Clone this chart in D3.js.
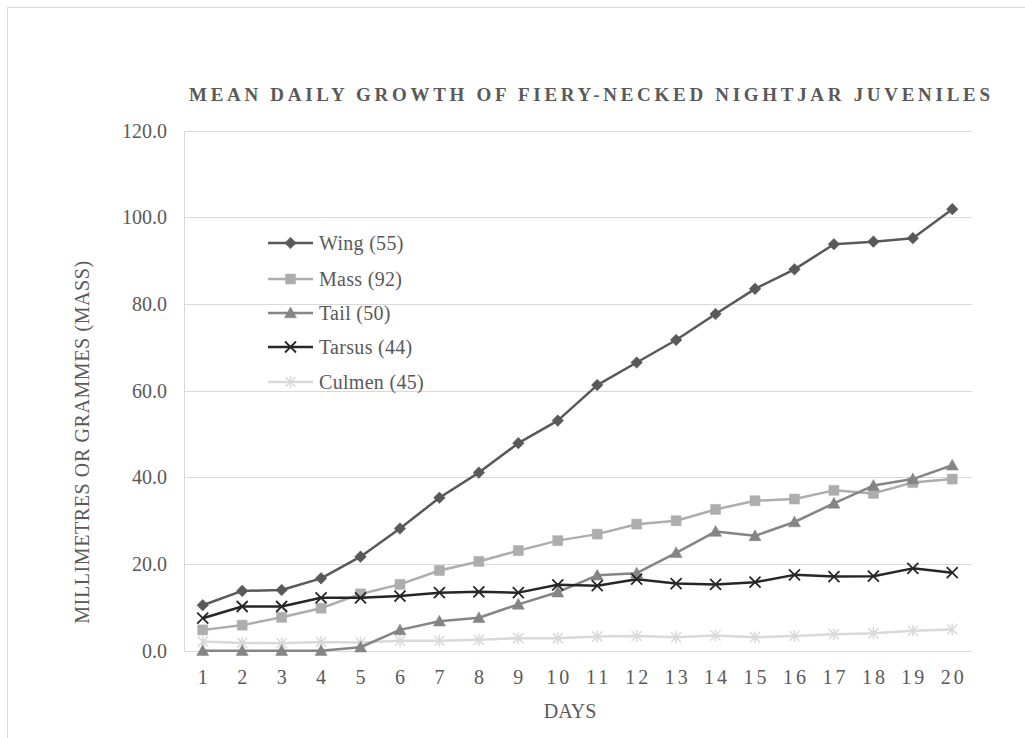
<!DOCTYPE html>
<html><head><meta charset="utf-8">
<script src="https://cdn.jsdelivr.net/npm/d3@7"></script>
<style>
html,body{margin:0;padding:0;background:#fff;}
svg text{font-family:"Liberation Serif","DejaVu Serif",serif;}
</style></head>
<body><svg id="c" width="1025" height="738"></svg>
<script>
const days = [1,2,3,4,5,6,7,8,9,10,11,12,13,14,15,16,17,18,19,20];
const yTicks = [0,20,40,60,80,100,120];
const seriesNames = ["Wing (55)","Mass (92)","Tail (50)","Tarsus (44)","Culmen (45)"];
const wing   = [10.5,13.8,14.0,16.7,21.7,28.2,35.3,41.1,47.9,53.1,61.3,66.5,71.7,77.7,83.5,88.0,93.8,94.4,95.2,101.9];
const mass   = [4.8,5.9,7.7,9.8,13.1,15.3,18.5,20.6,23.1,25.4,26.9,29.2,30.0,32.6,34.6,35.0,37.0,36.3,38.8,39.6];
const tail   = [0,0,0,0,0.8,4.8,6.8,7.6,10.7,13.5,17.4,17.9,22.6,27.5,26.5,29.7,34.0,38.1,39.6,42.8];
const tarsus = [7.5,10.2,10.2,12.2,12.2,12.6,13.4,13.6,13.4,15.2,15.0,16.5,15.5,15.3,15.8,17.5,17.1,17.2,19.0,18.0];
const culmen = [2.1,1.8,1.7,2.0,1.9,2.3,2.3,2.5,2.9,2.9,3.3,3.4,3.1,3.5,3.1,3.4,3.8,4.0,4.6,4.9];

const FONT = "'Liberation Serif', 'DejaVu Serif', serif";
const svg = d3.select("#c");
const colors = ["#595959","#adadad","#858585","#262626","#d9d9d9"];
const markers = ["diamond","square","triangle","x","star"];
const values = [wing, mass, tail, tarsus, culmen];
const txt = "#595959";

// outer border
svg.append("rect").attr("x",7.5).attr("y",7.5).attr("width",1100).attr("height",800)
  .attr("fill","none").attr("stroke","#d9d9d9").attr("stroke-width",1);

const x = d3.scaleBand().domain(days).range([183,972]);
const y = d3.scaleLinear().domain([0,120]).range([650.7,130.7]);
const cx = d => x(d) + x.bandwidth()/2;

// gridlines
svg.append("g").selectAll("line").data(yTicks).join("line")
  .attr("x1",184.5).attr("x2",972).attr("y1",d=>Math.round(y(d))+0.5).attr("y2",d=>Math.round(y(d))+0.5)
  .attr("stroke","#d9d9d9").attr("stroke-width",1);
svg.append("line").attr("x1",184.5).attr("x2",184.5).attr("y1",Math.round(y(120))+0.5).attr("y2",Math.round(y(0))+0.5)
  .attr("stroke","#d9d9d9");

// y tick labels
svg.append("g").selectAll("text").data(yTicks).join("text")
  .attr("x",167).attr("y",d=>y(d)).attr("dy","0.35em").attr("text-anchor","end")
  .attr("font-family",FONT).attr("fill",txt).attr("font-size",20).text(d=>d3.format(".1f")(d));
// x tick labels
svg.append("g").selectAll("text").data(days).join("text")
  .attr("x",d=>cx(d)+1.5).attr("y",677).attr("dy","0.35em").attr("text-anchor","middle")
  .attr("font-family",FONT).attr("fill",txt).attr("font-size",20).attr("letter-spacing",3).text(d=>d);

// titles
svg.append("text").attr("x",189).attr("y",94).attr("dy","0.35em").attr("text-anchor","start")
  .attr("font-family",FONT).attr("fill",txt).attr("font-size",19).attr("font-weight","bold")
  .attr("textLength",801).attr("lengthAdjust","spacing")
  .text("MEAN DAILY GROWTH OF FIERY-NECKED NIGHTJAR JUVENILES");
svg.append("text").attr("x",570).attr("y",711).attr("dy","0.35em").attr("text-anchor","middle")
  .attr("font-family",FONT).attr("fill",txt).attr("font-size",20).text("DAYS");
svg.append("text").attr("transform","translate(82,442) rotate(-90)").attr("dy","0.35em").attr("text-anchor","middle")
  .attr("font-family",FONT).attr("fill",txt).attr("font-size",20).attr("letter-spacing",0.6)
  .text("MILLIMETRES OR GRAMMES (MASS)");

function markerPath(type){
  switch(type){
    case "diamond": return "M0,-5.8L5.8,0L0,5.8L-5.8,0Z";
    case "square": return "M-5,-5H5V5H-5Z";
    case "triangle": return "M0,-6L6,4.8H-6Z";
    case "x": return "M-5.5,-5.5L5.5,5.5M5.5,-5.5L-5.5,5.5";
    case "star": return "M-5,-5L5,5M5,-5L-5,5M0,-6V6";
  }
}
function drawMarker(g, type, color){
  const p = g.append("path").attr("d", markerPath(type));
  if(type==="x"||type==="star") p.attr("fill","none").attr("stroke",color).attr("stroke-width",type==="x"?1.8:1.5);
  else p.attr("fill",color).attr("stroke",color).attr("stroke-width",0.5);
}

const line = d3.line().x((d,i)=>cx(days[i])).y(d=>y(d));
const order = [4,1,2,0,3];
order.forEach(si=>{
  const g = svg.append("g");
  g.append("path").attr("d",line(values[si])).attr("fill","none").attr("stroke",colors[si])
    .attr("stroke-width",2.5).attr("stroke-linejoin","round");
  values[si].forEach((v,i)=>{
    const mg = g.append("g").attr("transform",`translate(${cx(days[i])},${y(v)})`);
    drawMarker(mg, markers[si], colors[si]);
  });
});

// legend
const legY = [243,279,313,347,382];
seriesNames.forEach((n,i)=>{
  const g = svg.append("g").attr("transform",`translate(0,${legY[i]})`);
  g.append("line").attr("x1",268).attr("x2",313).attr("y1",0).attr("y2",0).attr("stroke",colors[i]).attr("stroke-width",2.5);
  const mg = g.append("g").attr("transform","translate(290.5,0)");
  drawMarker(mg, markers[i], colors[i]);
  g.append("text").attr("x",319).attr("y",0).attr("dy","0.35em").attr("font-family",FONT)
    .attr("fill",txt).attr("font-size",20).attr("letter-spacing",0.3).text(n);
});
</script></body></html>
